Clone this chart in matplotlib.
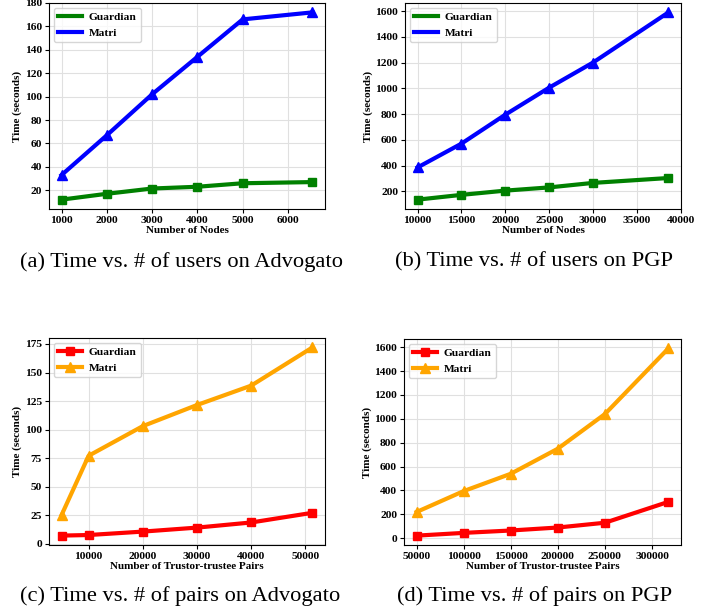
import matplotlib
matplotlib.use("Agg")
import matplotlib.pyplot as plt

plt.rcParams['font.family'] = ['Liberation Serif', 'DejaVu Serif']
plt.rcParams['font.weight'] = 'bold'

# (a) Advogato, nodes
nodes_adv = [1000, 2000, 3000, 4000, 5000, 6541]
guard_adv_nodes = [12, 17, 21.5, 23, 26, 27]
matri_adv_nodes = [33, 67, 102, 134, 166, 172]

# (b) PGP, nodes
nodes_pgp = [10000, 15000, 20000, 25000, 30000, 38600]
guard_pgp_nodes = [135, 172, 205, 230, 265, 303]
matri_pgp_nodes = [385, 570, 795, 1005, 1200, 1590]

# (c) Advogato, pairs
pairs_adv = [5000, 10000, 20000, 30000, 40000, 51300]
guard_adv_pairs = [7, 7.5, 10.5, 14, 18.5, 27]
matri_adv_pairs = [25, 77, 103, 121.5, 138.5, 172]

# (d) PGP, pairs
pairs_pgp = [50000, 100000, 150000, 200000, 250000, 317400]
guard_pgp_pairs = [22, 45, 65, 90, 130, 305]
matri_pgp_pairs = [220, 395, 540, 750, 1040, 1590]

captions = ["(a) Time vs. # of users on Advogato",
            "(b) Time vs. # of users on PGP",
            "(c) Time vs. # of pairs on Advogato",
            "(d) Time vs. # of pairs on PGP"]

W, H = 709, 613
fig = plt.figure(figsize=(W / 100, H / 100), dpi=100)

def add_ax(l, t, r, b):
    return fig.add_axes([l / W, 1 - b / H, (r - l) / W, (b - t) / H])

panels = [
    (add_ax(49, 3, 325, 209), nodes_adv, guard_adv_nodes, matri_adv_nodes,
     "Number of Nodes", "green", "blue", False),
    (add_ax(405, 3, 681, 209), nodes_pgp, guard_pgp_nodes, matri_pgp_nodes,
     "Number of Nodes", "green", "blue", False),
    (add_ax(49, 338, 325, 545), pairs_adv, guard_adv_pairs, matri_adv_pairs,
     "Number of Trustor-trustee Pairs", "red", "orange", True),
    (add_ax(404, 339, 681, 545), pairs_pgp, guard_pgp_pairs, matri_pgp_pairs,
     "Number of Trustor-trustee Pairs", "red", "orange", True),
]

for ax, x, g, m, xlabel, c1, c2, legmark in panels:
    ax.plot(x, g, color=c1, marker='s', markersize=5.5, linewidth=3, label="Guardian")
    ax.plot(x, m, color=c2, marker='^', markersize=7, linewidth=3, label="Matri")
    ax.grid(True, color='#e0e0e0', linewidth=0.8)
    ax.set_axisbelow(True)
    ax.set_xlabel(xlabel, fontsize=8, fontweight='bold', labelpad=1)
    ax.set_ylabel("Time (seconds)", fontsize=8, fontweight='bold', labelpad=2)
    ax.tick_params(labelsize=8.2, length=3, pad=2)
    for lab in ax.get_xticklabels() + ax.get_yticklabels():
        lab.set_fontweight('bold')
    leg = ax.legend(loc='upper left', handlelength=2.1, handletextpad=0.6,
                    prop={'weight': 'bold', 'size': 8.2}, borderaxespad=0.4)
    if not legmark:
        for h in leg.legend_handles:
            h.set_marker('')

panels[0][0].set_yticks(range(20, 181, 20))
panels[0][0].set_xticks(range(1000, 6001, 1000))
panels[1][0].set_yticks(range(200, 1601, 200))
panels[1][0].set_xticks(range(10000, 40001, 5000))
panels[2][0].set_yticks(range(0, 176, 25))
panels[2][0].set_xticks(range(10000, 50001, 10000))
panels[3][0].set_yticks(range(0, 1601, 200))
panels[3][0].set_xticks(range(50000, 300001, 50000))

cap_pos = [(181, 262), (534, 262), (180, 596), (535, 596)]
for (cx, cy), text in zip(cap_pos, captions):
    fig.text(cx / W, 1 - cy / H, text, ha='center', va='center',
             fontsize=16.2, fontweight='normal')

fig.savefig("out.png", dpi=100)
